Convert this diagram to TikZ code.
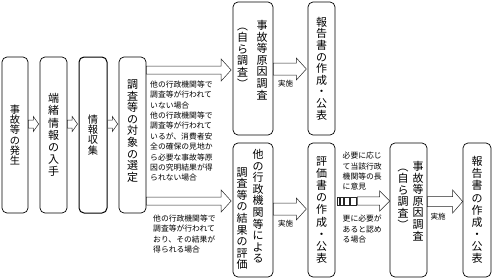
\documentclass[tikz,border=0pt]{standalone}
\usepackage{fontspec}
\usepackage{graphicx}
\setmainfont{Noto Sans CJK JP}
\usetikzlibrary{calc}
\newcommand\blockarr[5]{%
 \draw[barrow] ($(#1)+(0,-#3)$) -- ($(#2)+(-#5,-#3)$) -- ($(#2)+(-#5,-#4)$) -- (#2) -- ($(#2)+(-#5,#4)$) -- ($(#2)+(-#5,#3)$) -- ($(#1)+(0,#3)$) -- cycle;}
\newcommand\lpar{\rotatebox[origin=c]{-90}{（}}
\newcommand\rpar{\rotatebox[origin=c]{-90}{）}}
\begin{document}
\begin{tikzpicture}[x=1pt,y=-1pt,
 box/.style={draw=black, line width=0.7pt, rounded corners=5pt, inner sep=0pt, align=center},
 barrow/.style={draw=black!85, fill=white, line width=0.5pt},
 vt/.style={align=center, inner sep=0pt, font=\fontsize{11}{11.6}\selectfont},
 vts/.style={align=center, inner sep=0pt, font=\fontsize{10.2}{10.2}\selectfont},
 vtw/.style={align=center, inner sep=0pt, font=\fontsize{11}{12.1}\selectfont},
 note/.style={align=left, inner sep=0pt, anchor=north west, font=\fontsize{7.8}{10.4}\selectfont},
 lbl/.style={inner sep=0pt, font=\fontsize{7.5}{9}\selectfont},
]
\useasboundingbox (0,0) rectangle (492,279);
% boxes
\node[box, vts, minimum width=26pt, minimum height=156pt] (b1) at (15,135) {事\\故\\等\\の\\発\\生};
\node[box, vtw, minimum width=27pt, minimum height=156pt] (b2) at (53.5,135) {端\\緒\\情\\報\\の\\入\\手};
\node[box, vts, minimum width=28pt, minimum height=156pt, line width=1pt] (b3) at (93,135) {情\\報\\収\\集};
\node[box, minimum width=27pt, minimum height=156pt] (b4) at (132.5,135) {};
\node[vt] (t4) at (132.5,131) {調\\査\\等\\の\\対\\象\\の\\選\\定};
\node[box, minimum width=40pt, minimum height=133pt] (b5) at (253,68.5) {};
\node[box, vt, minimum width=27pt, minimum height=133pt] (b6) at (321.5,68.5) {報\\告\\書\\の\\作\\成\\・\\公\\表};
\node[box, minimum width=40pt, minimum height=134pt] (b7) at (253,210) {};
\node[box, vtw, minimum width=27pt, minimum height=134pt] (b8) at (321.5,210) {評\\価\\書\\の\\作\\成\\・\\公\\表};
\node[box, minimum width=37pt, minimum height=134pt] (b9) at (408.5,210) {};
\node[box, vtw, minimum width=28pt, minimum height=134pt] (b10) at (477,210) {報\\告\\書\\の\\作\\成\\・\\公\\表};
% two-column texts
\node[vt, anchor=north] (t5r) at (262,20) {事\\故\\等\\原\\因\\調\\査};
\node[vt, anchor=north] (t5l) at (242.5,20) {\lpar\\自\\ら\\調\\査\\\rpar};
\node[vt, anchor=north] (t7r) at (258,149) {他\\の\\行\\政\\機\\関\\等\\に\\よ\\る};
\node[vt, anchor=south] (t7l) at (242,270) {調\\査\\等\\の\\結\\果\\の\\評\\価};
\node[vt, anchor=north] (t9r) at (418,161) {事\\故\\等\\原\\因\\調\\査};
\node[vt, anchor=north] (t9l) at (403,161) {\lpar\\自\\ら\\調\\査\\\rpar};
% small arrows
\coordinate (ya) at (0,124);
\blockarr{$(b1.east |- ya)$}{$(b2.west |- ya)+(-1,0)$}{4}{7.5}{5.3}
\blockarr{$(b2.east |- ya)$}{$(b3.west |- ya)+(-1,0)$}{4}{7.5}{5.3}
\blockarr{$(b3.east |- ya)$}{$(b4.west |- ya)+(-1,0)$}{4}{7.5}{5.3}
% big arrows
\coordinate (yb) at (0,70);
\coordinate (yc) at (0,201);
\blockarr{$(b4.east |- yb)$}{$(b5.west |- yb)+(-1.5,0)$}{4}{11}{10}
\blockarr{$(b4.east |- yc)$}{$(b7.west |- yc)+(-1.5,0)$}{4}{11}{10}
% jisshi arrows
\coordinate (yd) at (0,69);
\coordinate (ye) at (0,209);
\coordinate (yf) at (0,201.5);
\blockarr{$(b5.east |- yd)$}{$(b6.west |- yd)+(-1.3,0)$}{6}{11}{10}
\blockarr{$(b7.east |- ye)$}{$(b8.west |- ye)+(-1.3,0)$}{6}{11}{10}
\blockarr{$(b9.east |- yf)$}{$(b10.west |- yf)+(0,0)$}{5}{11.5}{10}
\node[lbl] (l1) at (285.7,83.5) {実施};
\node[lbl] (l2) at (285.7,224) {実施};
\node[lbl] (l3) at (438,217) {実施};
% striped arrow
\coordinate (yg) at (0,201);
\coordinate (sg) at ($(b8.east |- yg)+(22,0)$);
\draw[barrow] ($(b8.east |- yg)+(2,-4.2)$) rectangle ($(b8.east |- yg)+(4,4.2)$);
\draw[barrow] ($(b8.east |- yg)+(5,-4.2)$) rectangle ($(b8.east |- yg)+(8,4.2)$);
\draw[barrow] ($(b8.east |- yg)+(9,-4.2)$) rectangle ($(b8.east |- yg)+(13.5,4.2)$);
\draw[barrow] ($(b8.east |- yg)+(14.5,-4.2)$) rectangle ($(b8.east |- yg)+(20.5,4.2)$);
\blockarr{sg}{$(b9.west |- yg)$}{4.2}{10}{10}
% notes
\node[note] (n1) at (150,80.5) {他の行政機関等で\\調査等が行われて\\いない場合\\他の行政機関等で\\調査等が行われて\\いるが、消費者安\\全の確保の見地か\\ら必要な事故等原\\因の究明結果が得\\られない場合};
\node[note] (n2) at (153,214.5) {他の行政機関等で\\調査等が行われて\\おり、その結果が\\得られる場合};
\node[note] (n3) at (342.5,152) {必要に応じ\\て当該行政\\機関等の長\\に意見};
\node[note] (n4) at (342.5,215) {更に必要が\\あると認め\\る場合};
\end{tikzpicture}
\end{document}
